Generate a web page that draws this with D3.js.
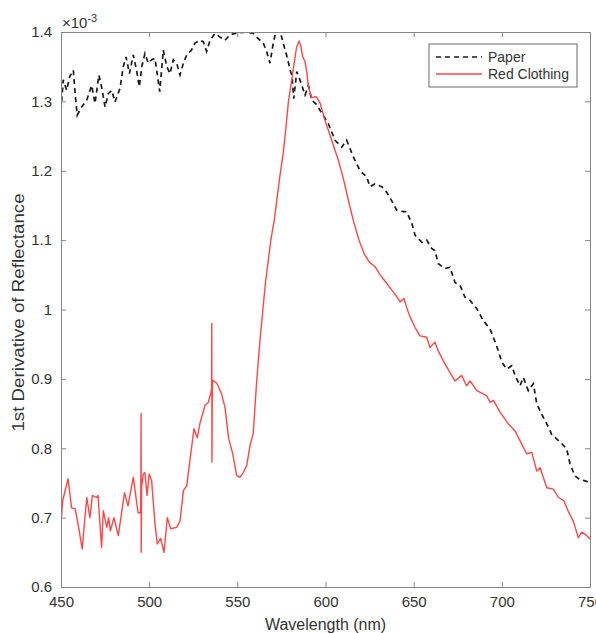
<!DOCTYPE html>
<html><head><meta charset="utf-8">
<script src="https://cdn.jsdelivr.net/npm/d3@7"></script>
<style>
body{margin:0;background:#fff;}
svg text{font-family:"Liberation Sans",Arial,Helvetica,sans-serif;fill:#333;}
</style></head>
<body><svg id="c" width="596" height="633"></svg>
<script>
// Data (values in units of 1e-3)
const paperWl = [450,451.3,453.2,455,457,458,459.2,461.7,464.6,467.4,469.3,471.5,473,475,476.8,478.8,480.6,483.5,485.3,486.9,488.8,491,493,494.4,495.8,497.6,499.5,501.4,503.3,506,508,510,511.8,513.7,515.6,517.5,519.4,521.3,524,526,528.8,530.7,532.6,534.5,537.3,540,543,545.8,548.7,551.5,555.3,559,562,564.7,566.6,568.5,570.4,572,574.2,576,578,580,581,582,583.7,585.5,588.4,590.3,592.2,595,597.9,601.6,605.4,609.2,612,615.8,619.6,623.4,625.2,628,631.9,634.7,637.5,640.4,644.1,646,649,650.8,654.6,657.4,660.2,662,664,667.8,670.6,673.4,676.3,679,682,685.8,689.5,693.3,697,700,702.8,705.6,707.5,710.3,712.2,715,717.9,719.8,722.6,725.5,728.3,732.1,735,736.8,738.7,741.5,744.3,747.2,749.6,750];
const paperVal = [1.287,1.331,1.316,1.336,1.345,1.312,1.28,1.292,1.302,1.323,1.297,1.338,1.321,1.292,1.311,1.316,1.299,1.319,1.35,1.364,1.34,1.367,1.343,1.321,1.35,1.369,1.355,1.36,1.362,1.314,1.374,1.35,1.34,1.36,1.355,1.338,1.355,1.367,1.374,1.384,1.388,1.386,1.372,1.388,1.398,1.393,1.388,1.396,1.398,1.399,1.40,1.398,1.39,1.384,1.372,1.355,1.384,1.402,1.402,1.384,1.366,1.345,1.336,1.304,1.343,1.331,1.309,1.323,1.302,1.295,1.283,1.268,1.244,1.234,1.244,1.22,1.20,1.191,1.177,1.181,1.177,1.169,1.157,1.143,1.141,1.141,1.124,1.107,1.097,1.10,1.088,1.085,1.066,1.059,1.061,1.039,1.035,1.018,1.013,1.001,0.984,0.972,0.948,0.924,0.914,0.919,0.905,0.89,0.902,0.883,0.893,0.864,0.849,0.835,0.82,0.811,0.804,0.799,0.777,0.76,0.755,0.753,0.751,0.751];
const redWl = [450,451,454,456,458,460,462,464.6,466.4,467.8,470,471,473,474,476,477,478,480,482.5,486,488,491,493.7,495.2,495.4,495.5,495.7,496.7,497.6,498.8,500,501.4,503.3,504.6,506.5,508.4,510.3,512.2,515.6,517.5,519.4,521.3,524,525.4,527.3,528.8,531.7,533.5,534.9,535.4,535.5,535.6,535.8,536,538.3,541,543,545,547.4,549.6,551.5,553.4,555.3,557.2,559,561,563,566,569,571,574,576,577.4,579,580.8,582.5,583.6,585,586,587,588.4,589.5,590.3,592.2,594,595,597,599.7,603.5,607.3,610,613,615.8,619,622,625,628,631,634,637,640,642.3,644.5,646,648,650.8,653.6,657.4,659.3,662,664,666.8,670.6,673.4,677.2,680,682,685.8,691.4,693.3,695.2,699,703.7,707.5,710.3,714.1,717,719.8,721.7,725.5,729.2,732.1,735,737.7,740.5,743.4,745.3,748.2,750];
const redVal = [0.691,0.725,0.756,0.714,0.713,0.686,0.655,0.729,0.700,0.732,0.729,0.732,0.657,0.710,0.686,0.700,0.681,0.700,0.674,0.736,0.717,0.758,0.707,0.707,0.850,0.650,0.745,0.763,0.765,0.732,0.763,0.753,0.691,0.662,0.670,0.650,0.700,0.684,0.686,0.695,0.739,0.746,0.800,0.828,0.815,0.836,0.862,0.866,0.879,0.885,0.980,0.780,0.890,0.898,0.894,0.879,0.859,0.815,0.792,0.761,0.758,0.765,0.775,0.804,0.821,0.898,0.96,1.04,1.10,1.13,1.19,1.225,1.258,1.30,1.33,1.36,1.378,1.387,1.38,1.365,1.357,1.34,1.321,1.305,1.307,1.306,1.297,1.273,1.244,1.215,1.19,1.157,1.128,1.10,1.08,1.068,1.062,1.05,1.04,1.03,1.02,1.011,1.016,1.003,0.989,0.974,0.962,0.96,0.945,0.953,0.94,0.926,0.909,0.897,0.905,0.890,0.897,0.883,0.876,0.866,0.869,0.852,0.835,0.825,0.811,0.792,0.794,0.767,0.772,0.743,0.741,0.729,0.725,0.709,0.695,0.671,0.679,0.674,0.669];
const xTicks = [450,500,550,600,650,700,750];
const yTicks = [0.6,0.7,0.8,0.9,1.0,1.1,1.2,1.3,1.4];
const seriesNames = ["Paper","Red Clothing"];

const svg = d3.select("#c");
const m = {l:61, r:6, t:32, b:46};
const W = 596, H = 633;
const x = d3.scaleLinear().domain([450,750]).range([m.l, W-m.r]);
const y = d3.scaleLinear().domain([0.6,1.4]).range([H-m.b, m.t]);
const axisCol = "#858585";
const redCol = "#ff4646";

svg.append("clipPath").attr("id","clip").append("rect")
  .attr("x",m.l).attr("y",m.t).attr("width",W-m.r-m.l).attr("height",H-m.b-m.t);

const line = d3.line().x(d=>x(d[0])).y(d=>y(d[1]));
const paper = paperWl.map((w,i)=>[w,paperVal[i]]);
const red = redWl.map((w,i)=>[w,redVal[i]]);

const g = svg.append("g").attr("clip-path","url(#clip)");
g.append("path").datum(paper).attr("d",line).attr("fill","none")
  .attr("stroke","#1a1a1a").attr("stroke-width",1.7).attr("stroke-dasharray","5,4");
g.append("path").datum(red).attr("d",line).attr("fill","none")
  .attr("stroke",redCol).attr("stroke-width",1.4).attr("stroke-linejoin","round");

// axes
function styleAxis(sel){
  sel.select(".domain").attr("stroke",axisCol);
  sel.selectAll(".tick line").attr("stroke",axisCol);
  sel.selectAll("text").style("font-size","15px").attr("fill","#333");
}
const fmt = d3.format("~g");
svg.append("g").attr("transform",`translate(0,${H-m.b})`)
  .call(d3.axisBottom(x).tickValues(xTicks).tickSizeInner(-5).tickSizeOuter(0).tickPadding(9))
  .call(styleAxis);
svg.append("g").attr("transform",`translate(0,${m.t})`)
  .call(d3.axisTop(x).tickValues(xTicks).tickSizeInner(-5).tickSizeOuter(0).tickFormat(""))
  .call(styleAxis);
svg.append("g").attr("transform",`translate(${m.l},0)`)
  .call(d3.axisLeft(y).tickValues(yTicks).tickSizeInner(-5).tickSizeOuter(0).tickPadding(9).tickFormat(fmt))
  .call(styleAxis);
svg.append("g").attr("transform",`translate(${W-m.r},0)`)
  .call(d3.axisRight(y).tickValues(yTicks).tickSizeInner(-5).tickSizeOuter(0).tickFormat(""))
  .call(styleAxis);

// exponent label
const ex = svg.append("text").attr("x",m.l+1).attr("y",m.t-4).style("font-size","15px");
ex.append("tspan").text("\u00d710");
ex.append("tspan").attr("dy",-6).style("font-size","11px").text("-3");

// axis labels
svg.append("text").attr("x",(m.l+W-m.r)/2).attr("y",H-3).attr("text-anchor","middle")
  .style("font-size","16px").text("Wavelength (nm)");
svg.append("text").attr("transform",`translate(24,${(m.t+H-m.b)/2 + 3}) rotate(-90) scale(1.17,1)`)
  .attr("text-anchor","middle").style("font-size","16px").text("1st Derivative of Reflectance");

// legend
const lg = svg.append("g");
lg.append("rect").attr("x",429).attr("y",44).attr("width",148).attr("height",43)
  .attr("fill","#fff").attr("stroke","#6a6a6a").attr("stroke-width",1);
const lyy = [57,74];
lg.append("line").attr("x1",436).attr("x2",482).attr("y1",lyy[0]).attr("y2",lyy[0])
  .attr("stroke","#1a1a1a").attr("stroke-width",1.7).attr("stroke-dasharray","5,4");
lg.append("line").attr("x1",436).attr("x2",482).attr("y1",lyy[1]).attr("y2",lyy[1])
  .attr("stroke",redCol).attr("stroke-width",1.4);
seriesNames.forEach((n,i)=>{
  lg.append("text").attr("x",488).attr("y",lyy[i]+5).style("font-size","14px").text(n);
});
</script></body></html>
